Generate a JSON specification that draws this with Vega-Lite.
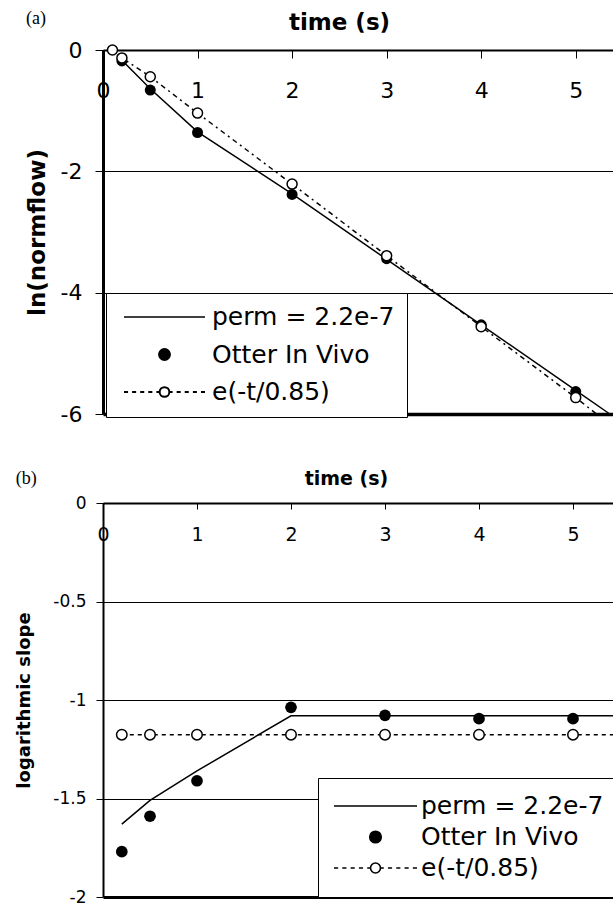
{
  "$schema": "https://vega.github.io/schema/vega-lite/v6.json",
  "background": "white",
  "padding": {"left": 15, "top": 9, "right": 0, "bottom": 0},
  "config": {
    "view": {"stroke": null},
    "font": "DejaVu Sans",
    "axis": {"labelColor": "black", "titleColor": "black", "domainColor": "black", "tickColor": "black", "labelFont": "DejaVu Sans", "titleFont": "DejaVu Sans", "labelFlush": false}
  },
  "datasets": {
    "topPerm": [
      {"t": 0.2, "v": -0.17, "series": "perm = 2.2e-7"},
      {"t": 0.5, "v": -0.64, "series": "perm = 2.2e-7"},
      {"t": 1, "v": -1.35, "series": "perm = 2.2e-7"},
      {"t": 2, "v": -2.37, "series": "perm = 2.2e-7"},
      {"t": 3, "v": -3.45, "series": "perm = 2.2e-7"},
      {"t": 4, "v": -4.53, "series": "perm = 2.2e-7"},
      {"t": 5, "v": -5.61, "series": "perm = 2.2e-7"},
      {"t": 5.36, "v": -6.0, "series": "perm = 2.2e-7"}
    ],
    "topELine": [
      {"t": 0.1, "v": 0.0}, {"t": 0.2, "v": -0.13}, {"t": 0.5, "v": -0.44}, {"t": 1, "v": -1.04},
      {"t": 2, "v": -2.21}, {"t": 3, "v": -3.39}, {"t": 4, "v": -4.56}, {"t": 5, "v": -5.73}, {"t": 5.22, "v": -6.0}
    ],
    "topE": [
      {"t": 0.1, "v": 0.0}, {"t": 0.2, "v": -0.13}, {"t": 0.5, "v": -0.44}, {"t": 1, "v": -1.04},
      {"t": 2, "v": -2.21}, {"t": 3, "v": -3.39}, {"t": 4, "v": -4.56}, {"t": 5, "v": -5.73}
    ],
    "topOtter": [
      {"t": 0.2, "v": -0.18}, {"t": 0.5, "v": -0.66}, {"t": 1, "v": -1.36}, {"t": 2, "v": -2.38},
      {"t": 3, "v": -3.44}, {"t": 4, "v": -4.53}, {"t": 5, "v": -5.63}
    ],
    "botPerm": [
      {"t": 0.2, "v": -1.63, "series": "perm = 2.2e-7"},
      {"t": 0.5, "v": -1.51, "series": "perm = 2.2e-7"},
      {"t": 1, "v": -1.36, "series": "perm = 2.2e-7"},
      {"t": 2, "v": -1.08, "series": "perm = 2.2e-7"},
      {"t": 5.5, "v": -1.08, "series": "perm = 2.2e-7"}
    ],
    "botELine": [
      {"t": 0.2, "v": -1.176}, {"t": 0.5, "v": -1.176}, {"t": 1, "v": -1.176}, {"t": 2, "v": -1.176},
      {"t": 3, "v": -1.176}, {"t": 4, "v": -1.176}, {"t": 5, "v": -1.176}, {"t": 5.5, "v": -1.176}
    ],
    "botE": [
      {"t": 0.2, "v": -1.176}, {"t": 0.5, "v": -1.176}, {"t": 1, "v": -1.176}, {"t": 2, "v": -1.176},
      {"t": 3, "v": -1.176}, {"t": 4, "v": -1.176}, {"t": 5, "v": -1.176}
    ],
    "botOtter": [
      {"t": 0.2, "v": -1.77}, {"t": 0.5, "v": -1.59}, {"t": 1, "v": -1.41}, {"t": 2, "v": -1.037},
      {"t": 3, "v": -1.078}, {"t": 4, "v": -1.095}, {"t": 5, "v": -1.095}
    ]
  },
  "concat": [
    {
      "width": 520,
      "height": 364,
      "title": {"text": "(a)", "anchor": "start", "frame": "bounds", "font": "Liberation Serif", "fontSize": 18, "fontWeight": "normal", "color": "black", "offset": 0, "dy": 16},
      "encoding": {
        "x": {"field": "t", "type": "quantitative", "scale": {"domain": [0, 5.5], "nice": false, "zero": false},
          "axis": {"orient": "top", "values": [0, 1, 2, 3, 4, 5], "title": "time (s)", "titleFontSize": 23, "titleFontWeight": "bold", "titlePadding": 15, "titleX": 236,
            "labelFontSize": 22, "labelPadding": -32, "tickSize": -8, "labelBaseline": "middle", "tickWidth": 1, "domainWidth": 2, "grid": false}},
        "y": {"field": "v", "type": "quantitative", "scale": {"domain": [-6, 0], "nice": false, "zero": false},
          "axis": {"values": [0, -2, -4, -6], "labelExpr": "'' + datum.value", "title": "ln(normflow)", "titleFontSize": 23, "titleFontWeight": "bold", "titlePadding": 11,
            "labelFontSize": 22, "labelPadding": 13, "tickSize": 8, "tickWidth": 1, "domainWidth": 3, "grid": true, "gridColor": "black",
            "gridWidth": {"condition": {"test": "datum.value === -6", "value": 3.5}, "value": 1}}}
      },
      "layer": [
        {
          "data": {"name": "topPerm"},
          "mark": {"type": "line", "strokeWidth": 1.5},
          "encoding": {
            "color": {"field": "series", "type": "nominal",
              "scale": {"domain": ["perm = 2.2e-7", "Otter In Vivo", "e(-t/0.85)"], "range": ["black", "black", "black"]},
              "legend": {"title": null, "orient": "none", "legendX": 3, "legendY": 243, "padding": 12, "strokeColor": "black", "fillColor": "white",
                "symbolSize": 6561, "clipHeight": 24, "rowPadding": 12.5, "labelOffset": 7, "symbolOffset": 0,
                "labelFont": "DejaVu Sans", "labelFontSize": 25, "labelColor": "black", "labelLimit": 400,
                "encode": {
                  "symbols": {"update": {
                    "x": {"value": 46.5},
                    "size": {"value": 6561},
                    "shape": {"signal": "datum.value === 'perm = 2.2e-7' ? 'M-1,0H1' : datum.value === 'Otter In Vivo' ? 'M0.14,0A0.14,0.14,0,1,1,-0.14,0A0.14,0.14,0,1,1,0.14,0Z' : 'M-1,0H-0.9M-0.8,0H-0.7M-0.6,0H-0.5M-0.4,0H-0.3M-0.2,0H-0.12M0.12,0H0.2M0.3,0H0.4M0.5,0H0.6M0.7,0H0.8M0.9,0H1M0.12,0A0.12,0.12,0,1,1,-0.12,0A0.12,0.12,0,1,1,0.12,0Z'"},
                    "fill": {"signal": "datum.value === 'Otter In Vivo' ? 'black' : 'white'"},
                    "stroke": {"value": "black"},
                    "strokeWidth": {"signal": "datum.value === 'e(-t/0.85)' ? 2 : 1.5"},
                    "opacity": {"value": 1}
                  }},
                  "labels": {"update": {"x": {"value": 94}}}
                }}
            }
          }
        },
        {
          "data": {"name": "topELine"},
          "mark": {"type": "line", "color": "black", "strokeWidth": 1.5, "strokeDash": [5, 4, 2, 4]},
          "encoding": {}
        },
        {
          "data": {"name": "topOtter"},
          "mark": {"type": "point", "shape": "circle", "filled": true, "color": "black", "size": 121, "opacity": 1}
        },
        {
          "data": {"name": "topE"},
          "mark": {"type": "point", "shape": "circle", "filled": true, "fill": "white", "stroke": "black", "strokeWidth": 1.5, "size": 100, "opacity": 1}
        }
      ]
    },
    {
      "width": 517,
      "height": 394,
      "title": {"text": "(b)", "anchor": "start", "frame": "bounds", "font": "Liberation Serif", "fontSize": 18, "fontWeight": "normal", "color": "black", "offset": 0, "dy": 18},
      "encoding": {
        "x": {"field": "t", "type": "quantitative", "scale": {"domain": [0, 5.5], "nice": false, "zero": false},
          "axis": {"orient": "top", "values": [0, 1, 2, 3, 4, 5], "title": "time (s)", "titleFontSize": 19, "titleFontWeight": "bold", "titlePadding": 14, "titleX": 243,
            "labelFontSize": 19, "labelPadding": -25, "tickSize": -6, "labelBaseline": "middle", "tickWidth": 1, "domainWidth": 2, "grid": false}},
        "y": {"field": "v", "type": "quantitative", "scale": {"domain": [-2, 0], "nice": false, "zero": false},
          "axis": {"values": [0, -0.5, -1, -1.5, -2], "labelExpr": "'' + datum.value", "title": "logarithmic slope", "titleFontSize": 18, "titleFontWeight": "bold", "titlePadding": 19,
            "labelFontSize": 17, "labelPadding": 10, "tickSize": 7, "tickWidth": 1, "domainWidth": 2, "grid": true, "gridColor": "black",
            "gridWidth": {"condition": {"test": "datum.value === -2", "value": 3}, "value": 1}}}
      },
      "layer": [
        {
          "data": {"name": "botPerm"},
          "mark": {"type": "line", "strokeWidth": 1.5},
          "encoding": {
            "color": {"field": "series", "type": "nominal",
              "scale": {"domain": ["perm = 2.2e-7", "Otter In Vivo", "e(-t/0.85)"], "range": ["black", "black", "black"]},
              "legend": {"title": null, "orient": "bottom-right", "offset": 0, "padding": 16, "strokeColor": "black", "fillColor": "white",
                "symbolSize": 6889, "clipHeight": 24, "rowPadding": 6, "labelOffset": 4, "symbolOffset": 0,
                "labelFont": "DejaVu Sans", "labelFontSize": 25, "labelColor": "black", "labelLimit": 400,
                "encode": {
                  "symbols": {"update": {
                    "x": {"value": 41.5},
                    "size": {"value": 6889},
                    "shape": {"signal": "datum.value === 'perm = 2.2e-7' ? 'M-1,0H1' : datum.value === 'Otter In Vivo' ? 'M0.14,0A0.14,0.14,0,1,1,-0.14,0A0.14,0.14,0,1,1,0.14,0Z' : 'M-1,0H-0.9M-0.8,0H-0.7M-0.6,0H-0.5M-0.4,0H-0.3M-0.2,0H-0.12M0.12,0H0.2M0.3,0H0.4M0.5,0H0.6M0.7,0H0.8M0.9,0H1M0.12,0A0.12,0.12,0,1,1,-0.12,0A0.12,0.12,0,1,1,0.12,0Z'"},
                    "fill": {"signal": "datum.value === 'Otter In Vivo' ? 'black' : 'white'"},
                    "stroke": {"value": "black"},
                    "strokeWidth": {"signal": "datum.value === 'e(-t/0.85)' ? 1.6 : 1.5"},
                    "opacity": {"value": 1}
                  }},
                  "labels": {"update": {"x": {"value": 87}}}
                }}
            }
          }
        },
        {
          "data": {"name": "botELine"},
          "mark": {"type": "line", "color": "black", "strokeWidth": 1.5, "strokeDash": [4, 4]},
          "encoding": {}
        },
        {
          "data": {"name": "botOtter"},
          "mark": {"type": "point", "shape": "circle", "filled": true, "color": "black", "size": 137, "opacity": 1}
        },
        {
          "data": {"name": "botE"},
          "mark": {"type": "point", "shape": "circle", "filled": true, "fill": "white", "stroke": "black", "strokeWidth": 1.5, "size": 110, "opacity": 1}
        }
      ]
    }
  ],
  "columns": 1,
  "align": "none",
  "spacing": 44
}
